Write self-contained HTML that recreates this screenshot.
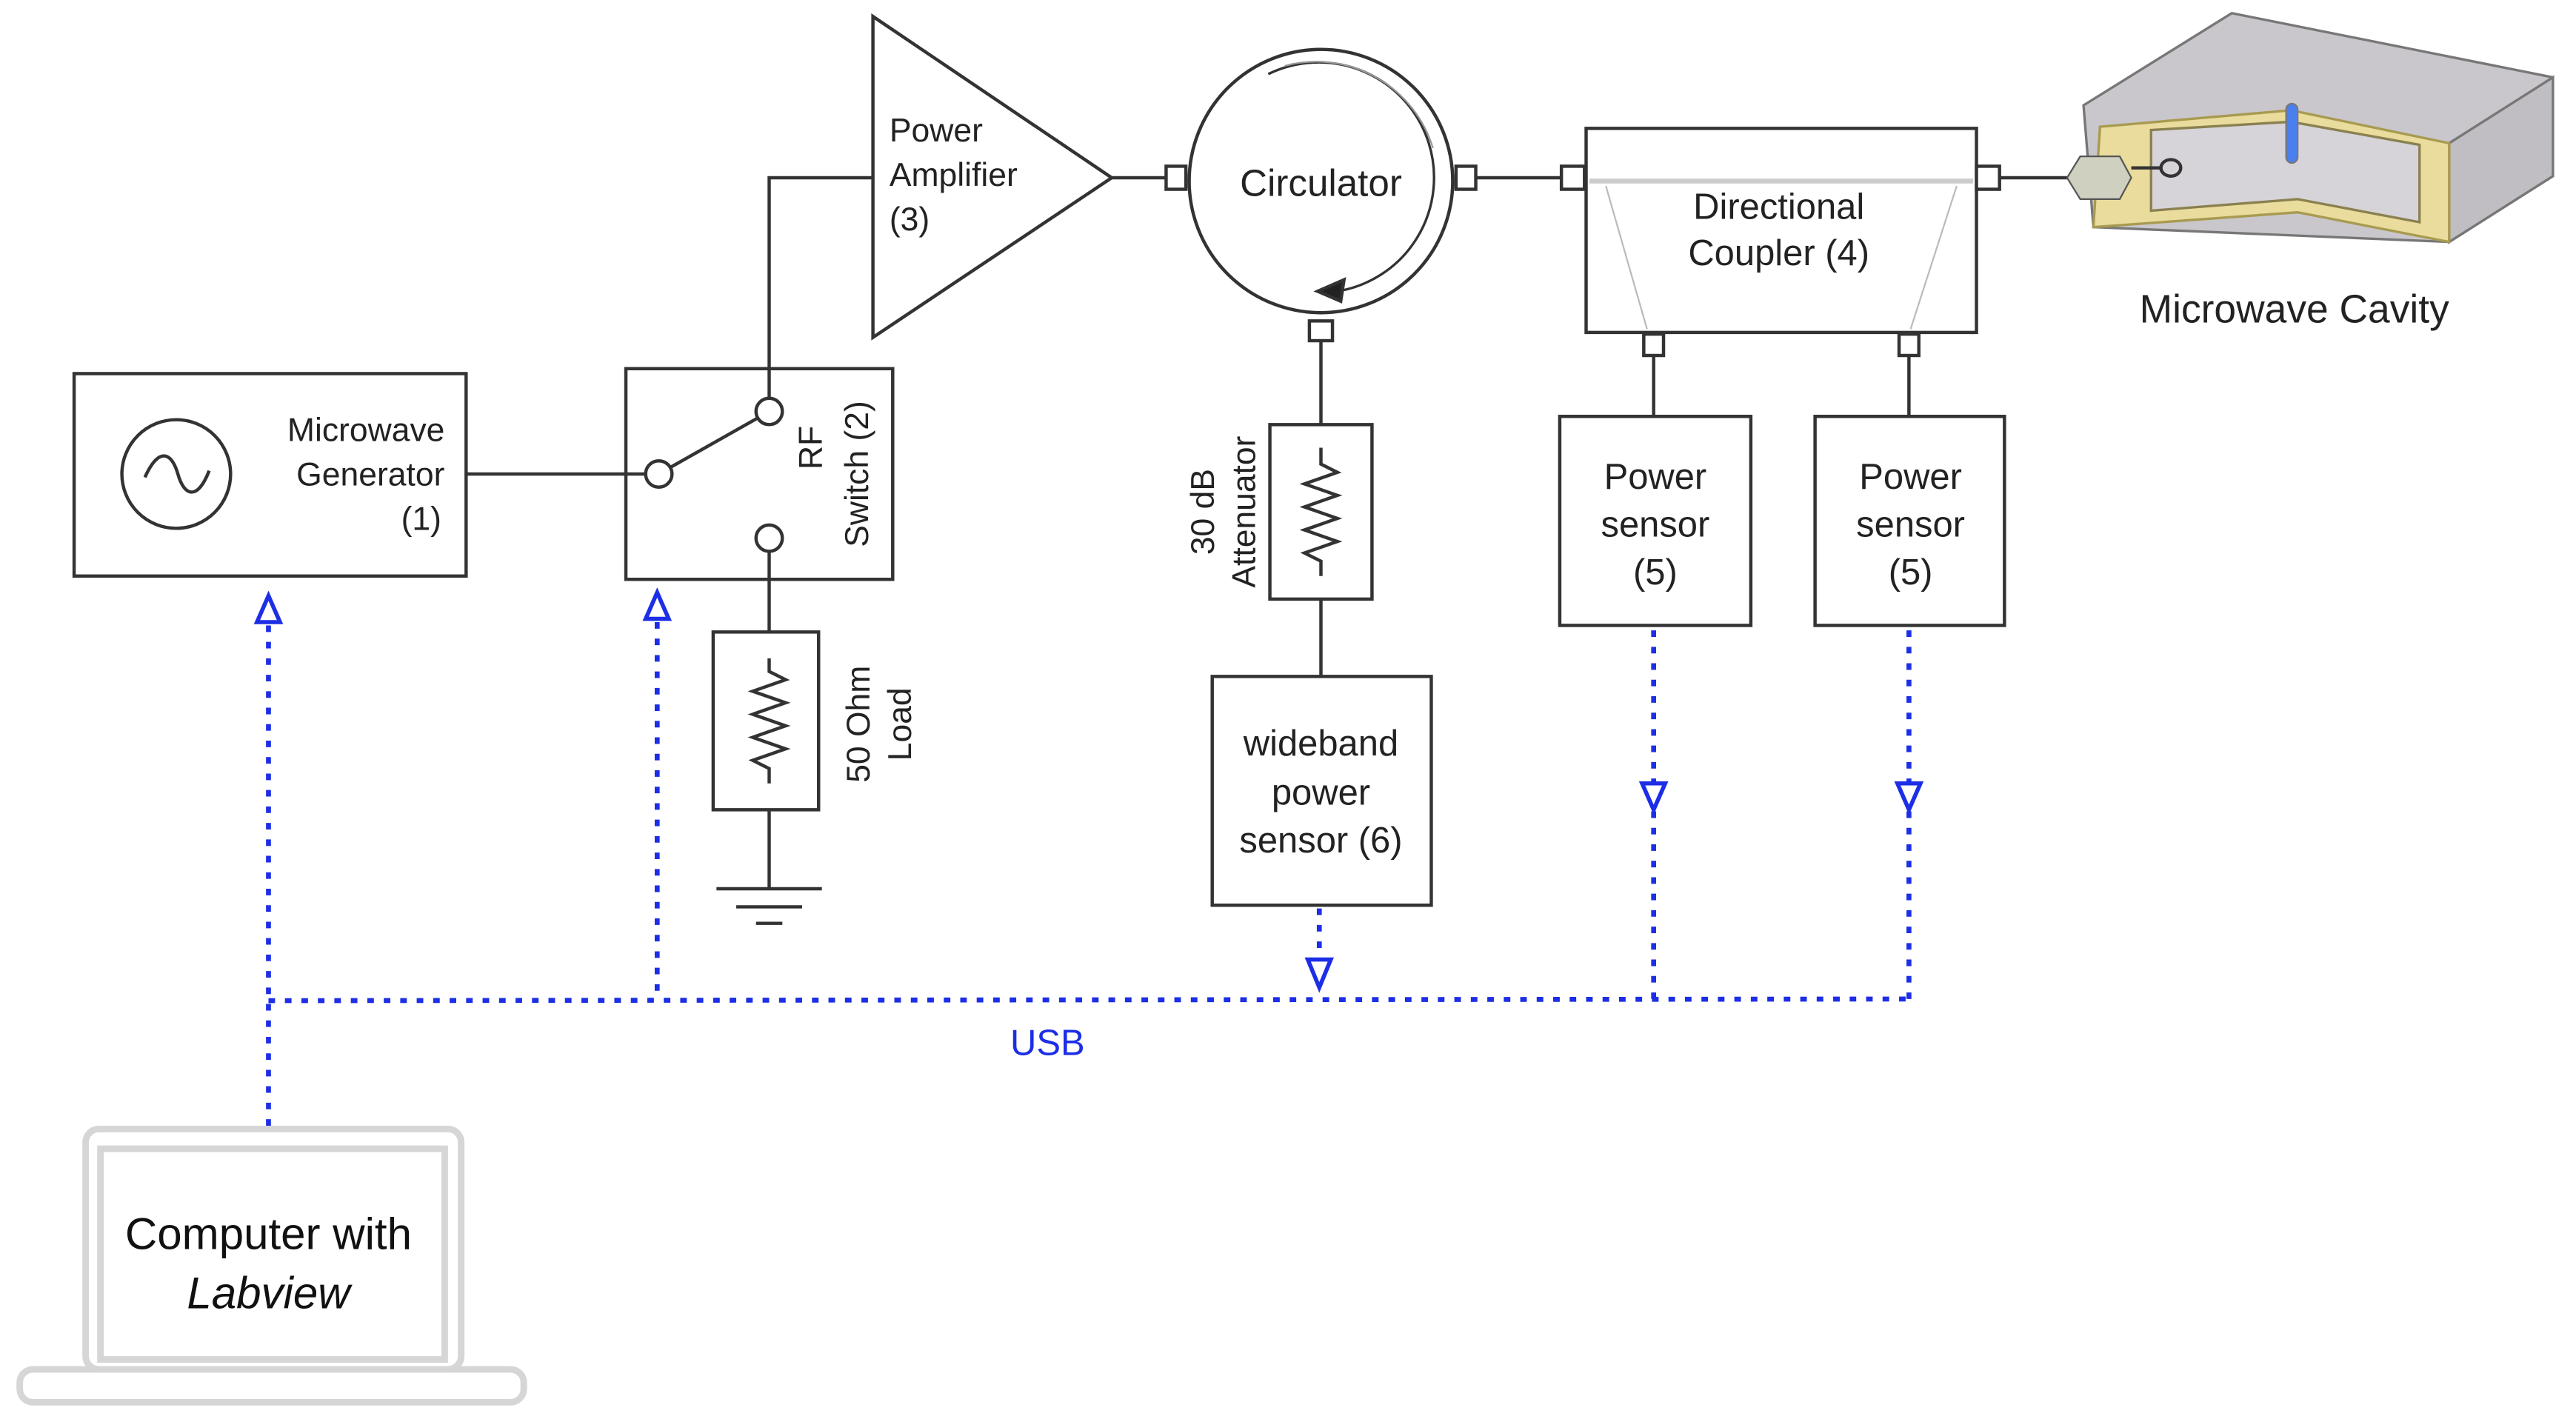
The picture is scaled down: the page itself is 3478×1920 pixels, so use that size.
<!DOCTYPE html>
<html><head><meta charset="utf-8"><style>html,body{margin:0;padding:0;background:#fff}svg{display:block}</style></head>
<body>
<svg width="3478" height="1920" viewBox="0 0 1564 864" preserveAspectRatio="none" xmlns="http://www.w3.org/2000/svg" font-family="Liberation Sans, sans-serif">
<rect width="1564" height="864" fill="#fff"/>
<g stroke="#333" stroke-width="2" fill="none">
<!-- generator -->
<rect x="45" y="227" width="238" height="123" fill="#fff"/>
<circle cx="107" cy="288" r="33"/>
<path d="M88 290 C96 272,104 274,108 288 C112 302,120 304,127 286"/>
<line x1="283" y1="288" x2="392" y2="288"/>
<!-- switch -->
<rect x="380" y="224" width="162" height="128"/>
<circle cx="400" cy="288" r="8" fill="#fff"/>
<circle cx="467" cy="250" r="8" fill="#fff"/>
<circle cx="467" cy="327" r="8" fill="#fff"/>
<line x1="407" y1="284" x2="460" y2="254"/>
<polyline points="467,242 467,108 530,108"/>
<line x1="467" y1="335" x2="467" y2="384"/>
<!-- load -->
<rect x="433" y="384" width="64" height="108"/>
<polyline points="467,400 467,408 477,413 457,420 477,427 457,434 477,441 457,448 477,455 457,462 467,467 467,476"/>
<line x1="467" y1="492" x2="467" y2="540"/>
<line x1="435" y1="540" x2="499" y2="540"/>
<line x1="447" y1="551" x2="487" y2="551"/>
<line x1="459" y1="561" x2="475" y2="561"/>
<!-- amp -->
<polygon points="530,10 530,205 675,108" fill="#fff"/>
<line x1="675" y1="108" x2="708" y2="108"/>
<rect x="708" y="101" width="12" height="14" fill="#fff"/>
<!-- circulator -->
<circle cx="802" cy="110" r="80" fill="#fff"/>
<path d="M770 45 A70 70 0 1 1 812 177" stroke-width="1.5"/>
<path d="M780 40 A74 74 0 0 1 870 90" stroke="#999" stroke-width="1"/>
<polygon points="800,177 816,170 814,183" fill="#222"/>
<rect x="884" y="101" width="12" height="14" fill="#fff"/>
<rect x="795" y="195" width="14" height="12" fill="#fff"/>
<line x1="896" y1="108" x2="948" y2="108"/>
<line x1="802" y1="207" x2="802" y2="258"/>
<!-- attenuator -->
<rect x="771" y="258" width="62" height="106"/>
<polyline points="802,272 802,282 812,287 792,294 812,301 792,308 812,315 792,322 812,329 792,336 802,341 802,350"/>
<line x1="802" y1="364" x2="802" y2="411"/>
<rect x="736" y="411" width="133" height="139"/>
<!-- coupler -->
<rect x="948" y="101" width="14" height="14" fill="#fff"/>
<rect x="963" y="78" width="237" height="124"/>
<rect x="1200" y="101" width="14" height="14" fill="#fff"/>
<line x1="1214" y1="108" x2="1262" y2="108"/>
<line x1="965" y1="110" x2="1198" y2="110" stroke="#ccc" stroke-width="3"/>
<path d="M975 113 L1000 200 M1188 113 L1160 200" stroke="#bbb" stroke-width="1"/>
<rect x="998" y="203" width="12" height="13" fill="#fff"/>
<rect x="1153" y="203" width="12" height="13" fill="#fff"/>
<line x1="1004" y1="216" x2="1004" y2="253"/>
<line x1="1159" y1="216" x2="1159" y2="253"/>
<rect x="947" y="253" width="116" height="127"/>
<rect x="1102" y="253" width="115" height="127"/>
</g>
<!-- cavity -->
<g stroke="#777" stroke-width="1.5">
<polygon points="1265,64 1355,8 1550,47 1550,107 1487,147 1271,138" fill="#c9c7cb"/>
<polygon points="1487,87 1550,47 1550,107 1487,147" fill="#c0bec2"/>
<polygon points="1275,77 1391,67 1487,87 1487,147 1395,129 1271,138" fill="#e9dc9c" stroke="#a89a50"/>
<polygon points="1306,79 1391,74 1469,88 1469,135 1395,121 1306,128" fill="#d6d4d8" stroke="#8a8050"/>
</g>
<rect x="1388" y="63" width="7" height="36" rx="3.5" fill="#4a7ff0" stroke="#777" stroke-width="1"/>
<polygon points="1255,108 1263,95 1287,95 1294,108 1287,121 1263,121" fill="#d0d0c0" stroke="#555"/>
<ellipse cx="1318" cy="102" rx="6" ry="5" fill="none" stroke="#333" stroke-width="2"/>
<line x1="1294" y1="102" x2="1312" y2="102" stroke="#333" stroke-width="2"/>
<!-- USB dashed -->
<g stroke="#1c2ee6" stroke-width="3" stroke-dasharray="4 6" fill="none">
<line x1="163" y1="380" x2="163" y2="690"/>
<line x1="399" y1="378" x2="399" y2="607"/>
<line x1="801" y1="552" x2="801" y2="582"/>
<line x1="1004" y1="383" x2="1004" y2="607"/>
<line x1="1159" y1="383" x2="1159" y2="607"/>
<line x1="163" y1="608" x2="1160" y2="607"/>
</g>
<g stroke="#1c2ee6" stroke-width="2.5" fill="#fff">
<polygon points="163,362 156,378 170,378"/>
<polygon points="399,360 392,376 406,376"/>
<polygon points="801,600 794,583 808,583"/>
<polygon points="1004,492 997,476 1011,476"/>
<polygon points="1159,492 1152,476 1166,476"/>
</g>
<text x="636" y="641" font-size="22" fill="#1c2ee6" text-anchor="middle">USB</text>
<!-- laptop -->
<g stroke="#d6d6d6" stroke-width="4" fill="none">
<rect x="52" y="686" width="228" height="146" rx="8"/>
<rect x="61" y="698" width="209" height="128"/>
<rect x="12" y="832" width="306" height="20" rx="8"/>
</g>
<g font-size="27" fill="#111" text-anchor="middle">
<text x="163" y="759">Computer with</text>
<text x="163" y="795" font-style="italic">Labview</text>
</g>
<!-- labels -->
<g font-size="20" fill="#222">
<g text-anchor="end"><text x="270" y="268">Microwave</text><text x="270" y="295">Generator</text><text x="268" y="322">(1)</text></g>
<text x="540" y="86">Power</text><text x="540" y="113">Amplifier</text><text x="540" y="140">(3)</text>
<text x="802" y="119" text-anchor="middle" font-size="23">Circulator</text>
<g text-anchor="middle" font-size="22">
<text x="1080" y="133">Directional</text><text x="1080" y="161">Coupler (4)</text>
<text x="1005" y="297">Power</text><text x="1005" y="326">sensor</text><text x="1005" y="355">(5)</text>
<text x="1160" y="297">Power</text><text x="1160" y="326">sensor</text><text x="1160" y="355">(5)</text>
<text x="802" y="459">wideband</text><text x="802" y="489">power</text><text x="802" y="518">sensor (6)</text>
<text x="1393" y="196" font-size="24">Microwave Cavity</text>
</g>
<g text-anchor="middle">
<text transform="translate(499,272) rotate(-90)">RF</text>
<text transform="translate(527,288) rotate(-90)">Switch (2)</text>
<text transform="translate(528,440) rotate(-90)">50 Ohm</text>
<text transform="translate(553,440) rotate(-90)">Load</text>
<text transform="translate(737,311) rotate(-90)">30 dB</text>
<text transform="translate(762,311) rotate(-90)">Attenuator</text>
</g>
</g>
</svg>
</body></html>
